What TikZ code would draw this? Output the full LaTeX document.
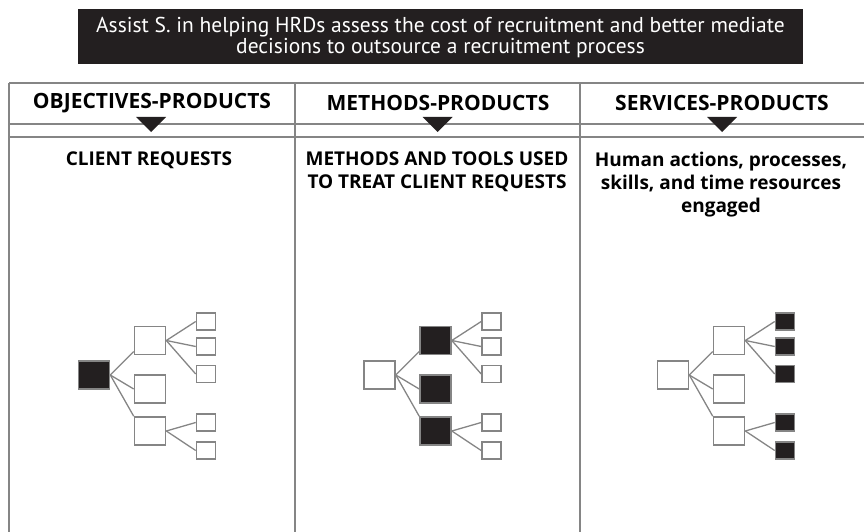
\documentclass[tikz,border=0pt]{standalone}
\usepackage{fontspec}
\setmainfont{PT Sans}
\newfontfamily\breit{Open Sans}
\usepackage{xcolor}
\definecolor{rahmen}{gray}{0.52}
\definecolor{tinte}{HTML}{231F20}

\begin{document}
\begin{tikzpicture}[x=1pt,y=-1pt,
  kasten/.style={draw=rahmen, line width=1.6pt, inner sep=0pt},
  gross/.style={kasten, minimum width=31pt, minimum height=28pt},
  klein/.style={kasten, minimum width=19pt, minimum height=17pt},
  ast/.style={draw=rahmen, line width=1.3pt},
  linie/.style={draw=rahmen, line width=1.3pt},
  titel/.style={fill=tinte, text=white, align=center, minimum width=725pt,
    minimum height=55pt, font=\fontsize{21.5}{21}\selectfont},
  kopf/.style={font=\breit\bfseries\fontsize{21}{22}\selectfont},
  spalte/.style={anchor=north, inner sep=0pt, align=center,
    font=\breit\bfseries\fontsize{19}{23}\selectfont}]
\useasboundingbox (0,0) rectangle (864,532);

% Titelbalken oben:
\node[titel] (titel) at (440.5,37) {Assist S. in helping HRDs assess the cost of recruitment and better mediate\\
  decisions to outsource a recruitment process};

% Tabellenlinien:
\draw[linie] (9,83) -- (864,83);
\draw[linie] (9,124) -- (864,124);
\draw[linie] (9,137) -- (864,137);
\foreach \x in {9,295,580}
  \draw[linie] (\x,83) -- (\x,532);

% Spaltenkoepfe mit Dreieck darunter:
\node[kopf] (kopf1) at (152,103) {OBJECTIVES-PRODUCTS};
\node[kopf] (kopf2) at (438,103) {METHODS-PRODUCTS};
\node[kopf] (kopf3) at (722,103) {SERVICES-PRODUCTS};
\foreach \x in {151,437.5,722}
  \fill[tinte] (\x-15,117) -- (\x+15,117) -- (\x,132) -- cycle;

% Text in den Spalten:
\node[spalte] (text1) at (149,152) {CLIENT REQUESTS};
\node[spalte] (text2) at (437,152) {METHODS AND TOOLS USED\\TO TREAT CLIENT REQUESTS};
\node[spalte] (text3) at (721,152) {Human actions, processes,\\skills, and time resources\\engaged};

% Baeume: Wurzel, mittlere Ebene, Blaetter
\foreach \x/\fa/\fb/\fc/\n in {94/tinte/white/white/a,379.5/white/tinte/white/b,673/white/white/tinte/c}{
  \node[gross, fill=\fa] (\n-w) at (\x,375) {};
  \foreach \y [count=\i] in {340.5,389,431}
    \node[gross, fill=\fb] (\n-m\i) at (\x+56,\y) {};
  \foreach \y [count=\i] in {321.5,346.5,374,422.5,450.5}
    \node[klein, fill=\fc] (\n-b\i) at (\x+112,\y) {};
  % Aeste zur mittleren Ebene:
  \draw[ast] (\n-w.east) -- (\n-m1.214);
  \draw[ast] (\n-w.east) -- (\n-m2.west);
  \draw[ast] (\n-w.east) -- (\n-m3.north west);
  % Aeste zu den Blaettern:
  \foreach \i in {1,2,3}
    \draw[ast] (\n-m1.east) -- (\n-b\i.west);
  \foreach \i in {4,5}
    \draw[ast] (\n-m3.east) -- (\n-b\i.west);
}
\end{tikzpicture}
\end{document}
